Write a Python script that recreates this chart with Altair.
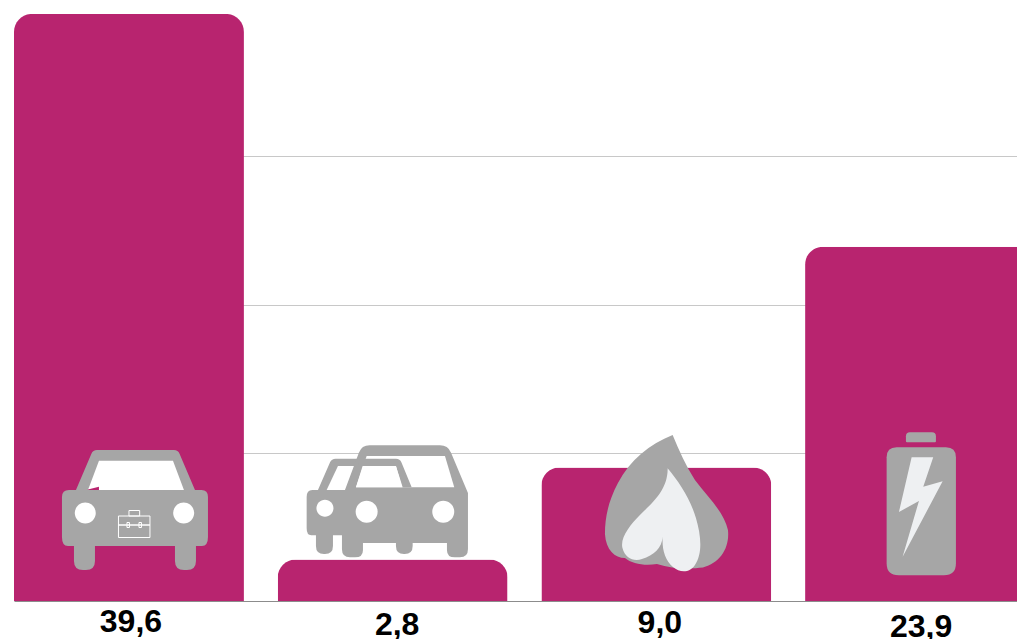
import math
import altair as alt
import pandas as pd

categories = ["Dienstwagen", "Zweitwagen", "Gas", "Batterie"]
values = [39.6, 2.8, 9.0, 23.9]
labels = ["39,6", "2,8", "9,0", "23,9"]
grid_values = [10, 20, 30]

MAGENTA = "#b8246f"
GRAY = "#a6a6a6"
PALE = "#eef0f2"
WHITE = "#ffffff"


# Icon outlines are drawn in reference pixels, then made relative to their anchor
# (bar centre on the axis baseline). size=4 makes a Vega custom symbol unit = 1px.
def rp(points, origin):
    ox, oy = origin
    n = len(points)
    out = []
    for i, (x, y, r) in enumerate(points):
        px, py, _ = points[i - 1]
        nx, ny, _ = points[(i + 1) % n]
        d1 = math.hypot(px - x, py - y) or 1
        d2 = math.hypot(nx - x, ny - y) or 1
        a = (x + (px - x) * min(r / d1, 0.5), y + (py - y) * min(r / d1, 0.5))
        b = (x + (nx - x) * min(r / d2, 0.5), y + (ny - y) * min(r / d2, 0.5))
        out.append(f"{'M' if i == 0 else 'L'}{a[0]-ox:.2f} {a[1]-oy:.2f}")
        if r:
            out.append(f"Q{x-ox:.2f} {y-oy:.2f} {b[0]-ox:.2f} {b[1]-oy:.2f}")
    return "".join(out) + "Z"


def circle(cx, cy, r, origin):
    ox, oy = origin
    k = 0.5523 * r
    x, y = cx - ox, cy - oy
    return (
        f"M{x-r:.2f} {y:.2f}C{x-r:.2f} {y-k:.2f} {x-k:.2f} {y-r:.2f} {x:.2f} {y-r:.2f}"
        f"C{x+k:.2f} {y-r:.2f} {x+r:.2f} {y-k:.2f} {x+r:.2f} {y:.2f}"
        f"C{x+r:.2f} {y+k:.2f} {x+k:.2f} {y+r:.2f} {x:.2f} {y+r:.2f}"
        f"C{x-k:.2f} {y+r:.2f} {x-r:.2f} {y+k:.2f} {x-r:.2f} {y:.2f}Z"
    )


def curve(start, segs, origin):
    ox, oy = origin
    s = f"M{start[0]-ox:.2f} {start[1]-oy:.2f}"
    for seg in segs:
        s += "C" + " ".join(f"{c[0]-ox:.2f} {c[1]-oy:.2f}" for c in seg)
    return s + "Z"


O1, O2, O3, O4 = (129, 601), (392.7, 601), (656.4, 601), (920.1, 601)

car1 = [
    (GRAY, rp([(93, 450, 4), (178, 450, 4), (195, 490, 0), (208, 490, 7), (208, 546, 9),
               (196, 546, 0), (196, 570, 9), (175, 570, 9), (175, 546, 0), (95, 546, 0),
               (95, 570, 9), (74, 570, 9), (74, 546, 0), (62, 546, 9), (62, 490, 7), (76, 490, 0)], O1)),
    (WHITE, rp([(99, 460.7, 0), (173, 460.7, 0), (184, 490, 0), (88, 490, 0)], O1)),
    (MAGENTA, rp([(88, 489.5, 0), (99, 486.7, 0), (99, 490, 0), (88, 490, 0)], O1)),
    (WHITE, circle(85.3, 513, 10.5, O1)),
    (WHITE, circle(183.7, 513, 10.5, O1)),
]
case_lines = [
    rp([(118.5, 516, 0), (150, 516, 0), (150, 537.5, 0), (118.5, 537.5, 0)], O1),
    rp([(129, 510.5, 0), (139.7, 510.5, 0), (139.7, 516, 0), (129, 516, 0)], O1),
    rp([(118.5, 525, 0), (127, 525, 0), (127, 522.5, 0), (129.5, 522.5, 0), (129.5, 527.5, 0),
        (127, 527.5, 0), (127, 525, 0), (139, 525, 0), (139, 522.5, 0), (141.5, 522.5, 0),
        (141.5, 527.5, 0), (139, 527.5, 0), (139, 525, 0), (150, 525, 0)], O1),
]
car2 = [
    (GRAY, rp([(331.7, 458.7, 4), (400, 458.7, 4), (416, 490, 0), (425, 490, 0), (425, 535.3, 0),
               (412.7, 535.3, 0), (412.7, 554, 8), (396, 554, 8), (396, 535.3, 0), (333, 535.3, 0),
               (333, 554, 8), (316, 554, 8), (316, 535.3, 0), (306.7, 535.3, 7), (306.7, 490, 7),
               (318, 490, 0)], O2)),
    (WHITE, rp([(338, 466, 0), (362, 466, 0), (362, 490, 0), (326.7, 490, 0)], O2)),
    (GRAY, rp([(361.7, 445.3, 8), (448, 445.3, 8), (468, 493, 0), (468, 557.3, 8), (447, 557.3, 8),
               (447, 543, 0), (363, 543, 0), (363, 557.3, 8), (342, 557.3, 8), (342, 490, 0),
               (345, 490, 0)], O2)),
    (WHITE, rp([(366.7, 456, 0), (445, 456, 0), (454.3, 487.3, 0), (356, 487.3, 0)], O2)),
    (GRAY, rp([(360, 458.7, 0), (400, 458.7, 4), (411.7, 487.3, 0), (402, 487.3, 0), (396, 466, 0), (358, 466, 0)], O2)),
    (WHITE, rp([(362.7, 466, 0), (396, 466, 0), (402.7, 487.3, 0), (356, 487.3, 0)], O2)),
    (WHITE, circle(325, 508.3, 8.5, O2)),
    (WHITE, circle(366.7, 511.7, 11, O2)),
    (WHITE, circle(443.3, 511.7, 11, O2)),
]
flame = [
    (GRAY, curve((672.7, 435), [
        ((650, 444), (630, 460), (618, 483)),
        ((608, 502), (605, 518), (605, 534)),
        ((606, 550), (615, 558), (625, 558)),
        ((632, 564), (645, 566), (657, 564)),
        ((672, 569), (690, 569), (703, 567.5)),
        ((720, 563), (730, 548), (728, 530)),
        ((724, 512), (708, 497), (695, 480)),
        ((686, 466), (679, 450), (672.7, 435)),
    ], O3)),
    (PALE, curve((667.7, 468.3), [
        ((668, 490), (652, 503), (640, 515)),
        ((630, 525), (620, 538), (622.5, 548)),
        ((625, 558), (634, 562), (642, 559)),
        ((654, 555), (662, 548), (662.7, 536.7)),
        ((662, 550), (665, 560), (673, 567)),
        ((680, 573), (690, 573), (695, 565)),
        ((703, 553), (701, 535), (696, 518)),
        ((690, 498), (679, 482), (667.7, 468.3)),
    ], O3)),
]
battery = [
    (GRAY, rp([(906, 432.3, 4), (936, 432.3, 4), (936, 442.3, 1), (906, 442.3, 1)], O4)),
    (GRAY, rp([(886.7, 447.3, 10), (956, 447.3, 10), (956, 575.3, 12), (886.7, 575.3, 12)], O4)),
    (PALE, rp([(911.7, 457.3, 0), (933.3, 457.3, 0), (923.3, 486.7, 0), (942.7, 481.3, 0),
               (902.7, 556.7, 0), (919, 501, 0), (899, 512, 0)], O4)),
]

df = pd.DataFrame({"category": categories, "value": values, "label": labels})
df["anchor"] = 0

x_enc = alt.X(
    "category:N",
    sort=categories,
    title=None,
    scale=alt.Scale(domain=categories, range=[0, 1021], paddingInner=0.128, paddingOuter=0),
    axis=alt.Axis(labels=False, ticks=False, domain=True, domainColor="#8c8c8c", domainWidth=1, grid=False),
)
y_scale = alt.Scale(domain=[0, 40], nice=False)
y_axis = alt.Axis(values=grid_values, labels=False, ticks=False, domain=False,
                  grid=True, gridColor="#c8c8c8", gridWidth=1)

bars = alt.Chart(df).mark_bar(
    color=MAGENTA, cornerRadiusTopLeft=18, cornerRadiusTopRight=18
).encode(
    x=x_enc,
    y=alt.Y("value:Q", title=None, scale=y_scale, axis=y_axis),
)


def anchored(category):
    return alt.Chart(df[df["category"] == category]).encode(
        x=x_enc,
        y=alt.Y("anchor:Q", title=None, scale=y_scale, axis=y_axis),
    )


layers = [bars]
for category, parts in zip(categories, [car1, car2, flame, battery]):
    base = anchored(category)
    for color, path in parts:
        layers.append(base.mark_point(shape=path, size=4, filled=True, fill=color, opacity=1))

for path in case_lines:
    layers.append(anchored(categories[0]).mark_point(
        shape=path, size=4, filled=False, stroke=WHITE, strokeWidth=1, opacity=1))

for category, dx, dy in zip(categories, [2, 4.5, 3.5, 1], [31, 33.5, 32, 35.5]):
    layers.append(
        anchored(category).mark_text(
            font="Liberation Sans", fontWeight="bold", fontSize=32, color="#000000",
            baseline="alphabetic", align="center", dx=dx, dy=dy,
        ).encode(text="label:N")
    )

chart = alt.layer(*layers).properties(
    width=1003,
    height=593,
    padding={"left": 6, "top": 0, "right": 0, "bottom": 38},
    autosize=alt.AutoSizeParams(type="none"),
    background="#ffffff",
).configure_view(stroke=None)

chart.save("out.html", embed_options={"renderer": "svg", "actions": False})
